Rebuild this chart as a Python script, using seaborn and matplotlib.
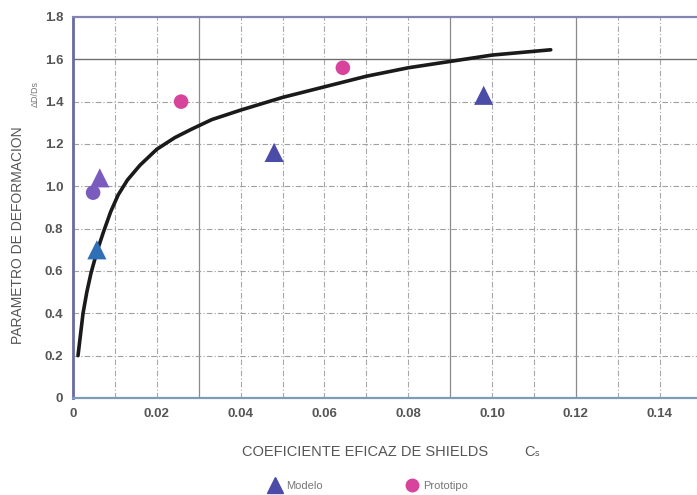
import matplotlib
matplotlib.use("Agg")
import matplotlib.pyplot as plt
from matplotlib.lines import Line2D
import seaborn as sns

# curve
curve_x = [0.0012, 0.0018, 0.0024, 0.0033, 0.0043, 0.0057, 0.0072, 0.0090, 0.0108,
           0.0130, 0.0160, 0.0200, 0.0243, 0.0283, 0.0331, 0.040, 0.050, 0.060,
           0.070, 0.080, 0.090, 0.100, 0.114]
curve_y = [0.20, 0.30, 0.40, 0.50, 0.59, 0.69, 0.78, 0.88, 0.96,
           1.03, 1.10, 1.175, 1.23, 1.27, 1.315, 1.36, 1.42, 1.47,
           1.52, 1.56, 1.59, 1.62, 1.645]

modelo_x = [0.0057, 0.0064, 0.048, 0.098]
modelo_y = [0.70, 1.04, 1.16, 1.43]

prototipo_x = [0.0048, 0.0258, 0.0644]
prototipo_y = [0.97, 1.40, 1.56]

x_ticks = [0, 0.02, 0.04, 0.06, 0.08, 0.10, 0.12, 0.14]
x_labels = ["0", "0.02", "0.04", "0.06", "0.08", "0.10", "0.12", "0.14"]
y_ticks = [0, 0.2, 0.4, 0.6, 0.8, 1.0, 1.2, 1.4, 1.6, 1.8]
y_labels = ["0", "0.2", "0.4", "0.6", "0.8", "1.0", "1.2", "1.4", "1.6", "1.8"]

modelo_colors = ["#2f6fb5", "#7a5cbf", "#4b4ba8", "#4b4ba8"]
prototipo_colors = ["#7a5cbf", "#d8439c", "#d8439c"]

sns.set_style("white")
plt.rcParams["font.family"] = ["Liberation Sans", "DejaVu Sans"]

fig = plt.figure(figsize=(6.97, 4.95), dpi=100)
ax = fig.add_axes([0.1047, 0.196, 0.8953, 0.7697])

# grid: dash-dot every 0.01 / 0.2
for xv in [i * 0.01 for i in range(1, 15)]:
    solid = round(xv, 2) in (0.03, 0.09, 0.12)
    ax.axvline(xv, color="#8a8a8a" if solid else "#a8a8a8",
               lw=0.9 if solid else 0.8, ls="-" if solid else (0, (5, 2, 1, 2)), zorder=0)
for yv in y_ticks[1:-1]:
    solid = yv == 1.6
    ax.axhline(yv, color="#6f6f6f" if solid else "#a0a0a0",
               lw=1.0 if solid else 0.8, ls="-" if solid else (0, (5, 2, 1, 2)), zorder=0)

sns.lineplot(x=curve_x, y=curve_y, ax=ax, color="#1a1a1a", lw=2.6, sort=False, zorder=3)

for x, y, c in zip(modelo_x, modelo_y, modelo_colors):
    ax.scatter(x, y, marker="^", s=190, color=c, edgecolors="none", zorder=4)
for x, y, c in zip(prototipo_x, prototipo_y, prototipo_colors):
    ax.scatter(x, y, marker="o", s=110, color=c, edgecolors="none", zorder=4)

ax.set_xlim(0, 0.1489)
ax.set_ylim(0, 1.8)
ax.set_xticks(x_ticks)
ax.set_xticklabels(x_labels)
ax.set_yticks(y_ticks)
ax.set_yticklabels(y_labels)
ax.tick_params(length=0, labelsize=9.5, labelcolor="#555555", pad=7)
for lab in ax.get_xticklabels() + ax.get_yticklabels():
    lab.set_fontweight("bold")

ax.spines["left"].set_color("#6a6aa0")
ax.spines["left"].set_linewidth(2.0)
ax.spines["bottom"].set_color("#7d9bbb")
ax.spines["bottom"].set_linewidth(1.6)
ax.spines["top"].set_color("#8585b5")
ax.spines["top"].set_linewidth(1.6)
ax.spines["right"].set_visible(False)

fig.text(0.026, 0.525, "PARAMETRO DE DEFORMACION", rotation=90, ha="center", va="center",
         fontsize=10, color="#555555")
fig.text(0.051, 0.81, "ΔD/Ds", rotation=90, ha="center", va="center",
         fontsize=6.5, color="#777777")
fig.text(0.524, 0.087, "COEFICIENTE EFICAZ DE SHIELDS", ha="center", va="center",
         fontsize=10.5, color="#555555")
fig.text(0.763, 0.087, "Cₛ", ha="center", va="center", fontsize=10.5, color="#555555")

handles = [
    Line2D([], [], marker="^", ls="", color="#4b4ba8", markersize=12, label="Modelo"),
    Line2D([], [], marker="o", ls="", color="#d8439c", markersize=9, label="Prototipo"),
]
fig.legend(handles=handles, loc="center", bbox_to_anchor=(0.525, 0.018), ncol=2,
           frameon=False, fontsize=8, labelcolor="#777777", handletextpad=0.0,
           columnspacing=7, borderaxespad=0)

fig.savefig("out.png", dpi=100)
